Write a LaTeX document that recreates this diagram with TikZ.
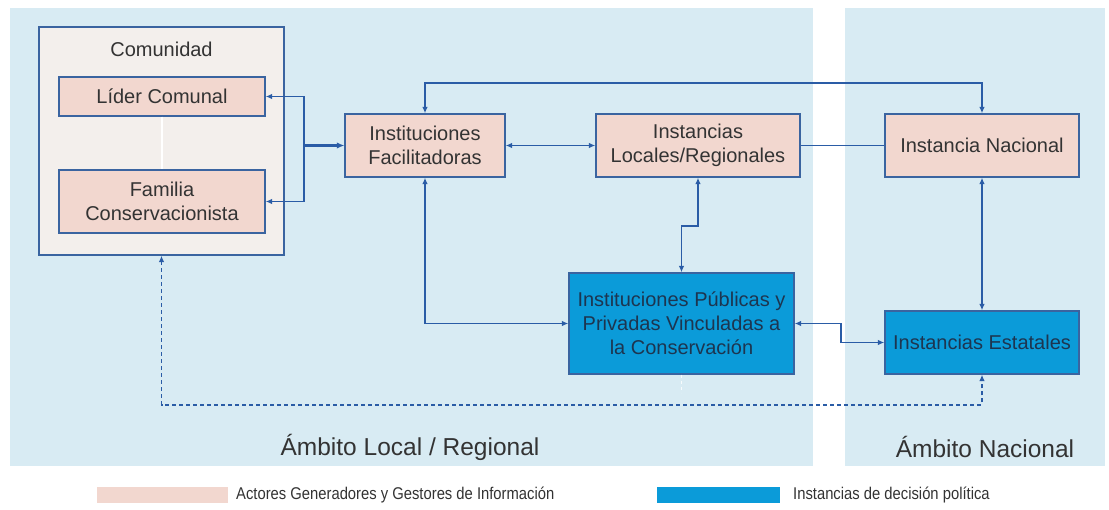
\documentclass[tikz,border=0pt]{standalone}
\usepackage{fontspec}
\setmainfont{Liberation Sans}
\usetikzlibrary{arrows.meta}
\definecolor{panelbg}{HTML}{D8EBF3}
\definecolor{comfill}{HTML}{F3EFEC}
\definecolor{pinkfill}{HTML}{F2D7CF}
\definecolor{bluefill}{HTML}{0B9BD9}
\definecolor{edgeblue}{HTML}{3A64A0}
\definecolor{linkblue}{HTML}{2A5CA6}
\definecolor{txtgray}{HTML}{333333}
\definecolor{txtblue}{HTML}{1D3550}
\tikzset{
  pinkbox/.style={draw=edgeblue, line width=1.3pt, fill=pinkfill, inner sep=0pt, align=center,
    text=txtgray, font=\fontsize{20}{24}\selectfont},
  bluebox/.style={draw=edgeblue, line width=1.3pt, fill=bluefill, inner sep=0pt, align=center,
    text=txtblue, font=\fontsize{20}{24}\selectfont},
  link/.style={draw=linkblue, line width=1.8pt},
  tipend/.style={link, -{Latex[length=6.5pt,width=5.5pt]}},
  tipboth/.style={link, {Latex[length=6.5pt,width=5.5pt]}-{Latex[length=6.5pt,width=5.5pt]}},
  dashlink/.style={link, dash pattern=on 4pt off 3pt},
  arealabel/.style={text=txtgray, font=\fontsize{24.5}{28}\selectfont},
  legendtext/.style={anchor=west, text=txtgray, inner sep=0pt},
}
\begin{document}
\begin{tikzpicture}[x=1pt,y=-1pt]
\useasboundingbox (0,0) rectangle (1109,510);
\fill[white] (0,0) rectangle (1109,510);
% panels
\fill[panelbg] (10,8) rectangle (813,466);
\fill[panelbg] (845,8) rectangle (1105,466);

% community
\node[draw=edgeblue, line width=1.3pt, fill=comfill, minimum width=245pt, minimum height=228pt, inner sep=0pt] (com) at (161.5,141) {};
\node[text=txtgray, font=\fontsize{20}{24}\selectfont] (comlabel) at (161.5,49) {Comunidad};
\node[pinkbox, minimum width=206pt, minimum height=39pt] (lider) at (162,96.5) {Líder Comunal};
\node[pinkbox, minimum width=206pt, minimum height=63pt] (fam) at (162,201.5) {Familia\\Conservacionista};

% main boxes
\node[pinkbox, minimum width=160pt, minimum height=63pt] (IF) at (425,145.5) {Instituciones\\Facilitadoras};
\node[pinkbox, minimum width=204pt, minimum height=63pt] (ILR) at (698,145.5) {Instancias\\Locales/Regionales};
\node[pinkbox, minimum width=194pt, minimum height=63pt] (IN) at (982,145.5) {Instancia Nacional};
\node[bluebox, minimum width=225pt, minimum height=101pt] (IP) at (681.5,323.5) {Instituciones Públicas y\\Privadas Vinculadas a\\la Conservación};
\node[bluebox, minimum width=194pt, minimum height=63pt] (IE) at (982,342.5) {Instancias Estatales};

% connectors
\coordinate (br) at (304,145.5);
\draw[white, line width=1.5pt] (lider.south) -- (fam.north);
\draw[tipend] (br) |- (lider.east);
\draw[tipend] (br) |- (fam.east);
\draw[link, line width=2.8pt, -{Latex[length=7.5pt,width=6.5pt]}] (br) -- (IF.west);
\draw[tipboth] (IF.north) -- ++(0,-30) -| (IN.north);
\draw[tipboth] (IF.east) -- (ILR.west);
\draw[link] (ILR.east) -- (IN.west);
\draw[tipboth] (IN.south) -- (IE.north);
\draw[tipboth] (ILR.south) -- ++(0,48) -| (IP.north);
\draw[tipboth] (IF.south) |- (IP.west);
\draw[tipboth] (IP.east) -- ++(46,0) |- (IE.west);
\draw[dashlink, {Latex[length=6.5pt,width=5.5pt]}-{Latex[length=6.5pt,width=5.5pt]}] (com.south) -- ++(0,149) -| (IE.south);
\draw[white, line width=1.5pt, dash pattern=on 3pt off 3pt, opacity=0.8] (IP.south) -- ++(0,18);

% area labels
\node[arealabel] (loclabel) at (410,447) {Ámbito Local / Regional};
\node[arealabel] (naclabel) at (985,447) {Ámbito Nacional};

% legend
\fill[pinkfill] (97,487) rectangle (228,503);
\node[legendtext] (leg1) at (236,495) {\scalebox{0.87}[1]{\fontsize{17}{18}\selectfont Actores Generadores y Gestores de Información}};
\fill[bluefill] (657,487) rectangle (780,503);
\node[legendtext] (leg2) at (793,495) {\scalebox{0.87}[1]{\fontsize{17}{18}\selectfont Instancias de decisión política}};
\end{tikzpicture}
\end{document}
